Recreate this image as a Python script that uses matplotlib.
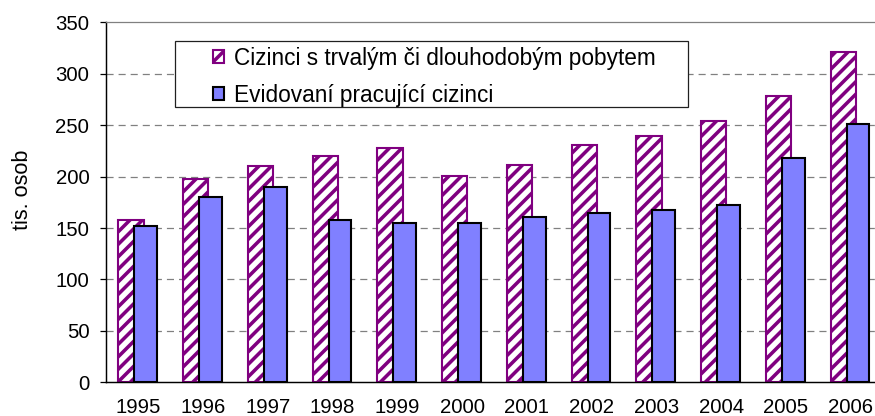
import matplotlib
matplotlib.use("Agg")
import matplotlib.pyplot as plt
from matplotlib.patches import Rectangle
import numpy as np

years = ["1995", "1996", "1997", "1998", "1999", "2000", "2001", "2002", "2003", "2004", "2005", "2006"]
residents = [158, 198, 210, 220, 228, 201, 211, 231, 240, 254, 278, 321]
workers = [152, 180, 190, 158, 155, 155, 161, 165, 168, 172, 218, 251]
label_res = "Cizinci s trvalým či dlouhodobým pobytem"
label_work = "Evidovaní pracující cizinci"
y_label = "tis. osob"
y_ticks = [0, 50, 100, 150, 200, 250, 300, 350]

plt.rcParams['font.family'] = ['Liberation Sans', 'DejaVu Sans']
plt.rcParams['hatch.linewidth'] = 1.7
plt.rcParams['lines.scale_dashes'] = False

W, H, DPI = 875, 416, 150
fig = plt.figure(figsize=(W / DPI, H / DPI), dpi=DPI)
left_px, right_px, top_px, bot_px = 106, 883, 22.4, 382.3
ax = fig.add_axes([left_px / W, 1 - bot_px / H, (right_px - left_px) / W, (bot_px - top_px) / H])

x = np.arange(len(years))
purple = "#800080"
blue = "#8080FF"
ax.bar(x - 0.115, residents, width=0.39, facecolor="white", edgecolor=purple,
       hatch="////", linewidth=1.0, zorder=2, label=label_res)
ax.bar(x + 0.115, workers, width=0.35, facecolor=blue, edgecolor="black",
       linewidth=1.0, zorder=3, label=label_work)

ax.set_xlim(-0.5, len(years) - 0.5)
ax.set_ylim(0, 350)
ax.set_yticks(y_ticks)
ax.set_yticklabels([str(v) for v in y_ticks])
ax.set_xticks(x)
ax.set_xticklabels(years)
ax.tick_params(axis='x', length=0, pad=7.5, labelsize=9.8)
ax.tick_params(axis='y', length=3, width=0.6, pad=5, labelsize=9.8, direction='out')

for v in y_ticks[1:-1]:
    ax.axhline(v, color="#808080", linewidth=0.6, linestyle=(0, (3.4, 2.4)), zorder=1)

ax.spines['left'].set_linewidth(0.7)
ax.spines['bottom'].set_linewidth(0.7)
ax.spines['top'].set_color("#808080")
ax.spines['top'].set_linewidth(0.6)
ax.spines['right'].set_visible(False)

fig.text(22 / W, 1 - 190 / H, y_label, rotation=90, ha='center', va='center', fontsize=10.4)

# legend frame
box = Rectangle((175 / W, 1 - 107 / H), (688 - 175) / W, (107 - 41) / H,
                transform=fig.transFigure, facecolor="white", edgecolor="#202020",
                linewidth=0.6, zorder=8)
ax.add_patch(box)
box.set_clip_on(False)

leg = ax.legend(loc='upper left', bbox_to_anchor=(205 / W, 1 - 39 / H),
                bbox_transform=fig.transFigure, frameon=False,
                fontsize=10.85, handlelength=0.5, handleheight=0.5,
                handletextpad=0.45, labelspacing=0.62, borderpad=0.35,
                borderaxespad=0)
leg.set_zorder(10)

fig.savefig("out.png", dpi=DPI)
